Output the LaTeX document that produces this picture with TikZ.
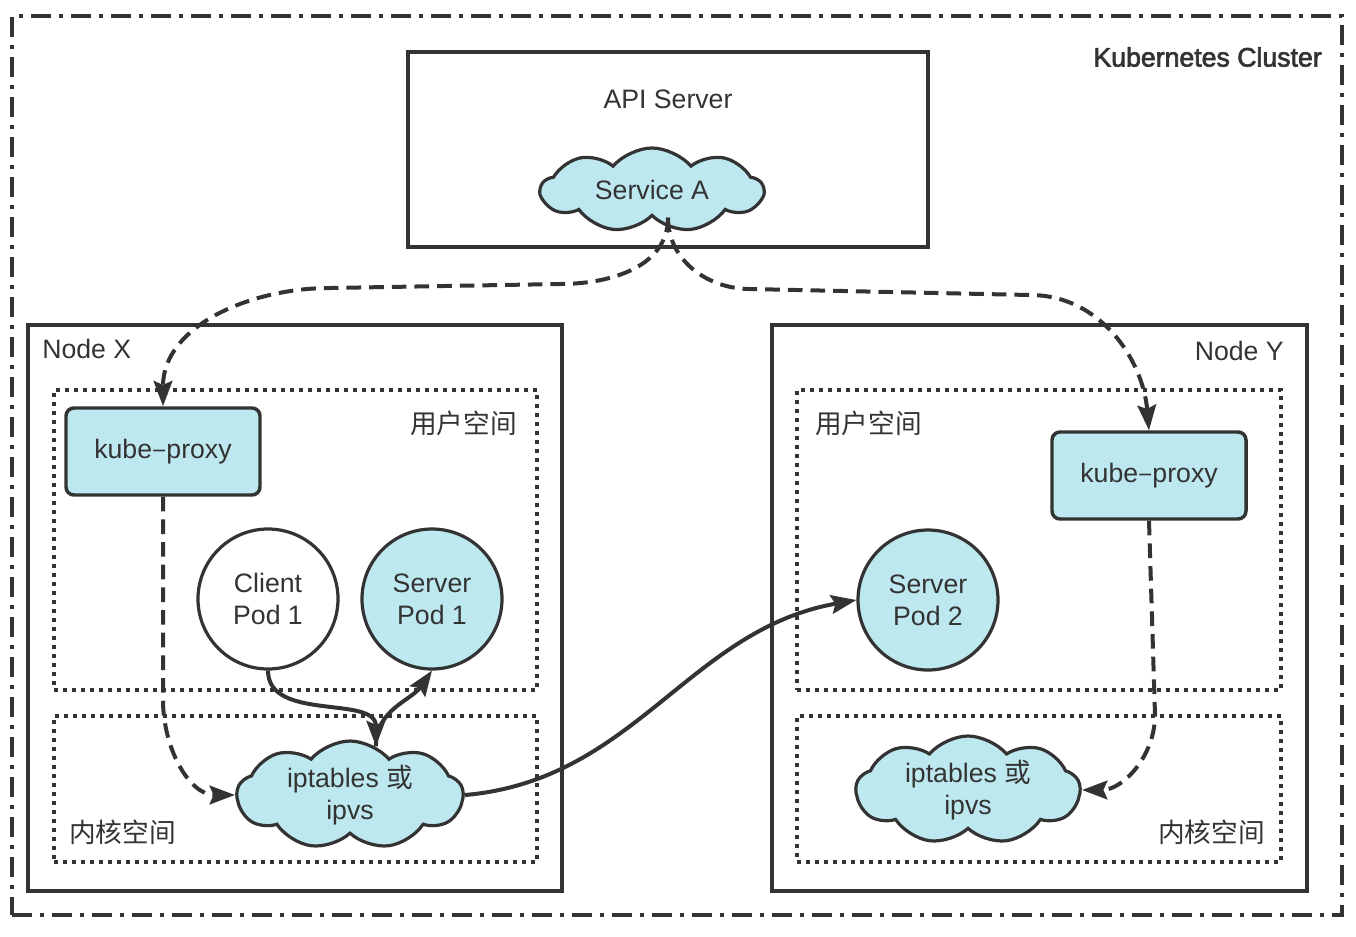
\documentclass[tikz,border=0pt]{standalone}
\usepackage{fontspec}
\setmainfont{Liberation Sans}
\newfontfamily\cjk{Noto Sans CJK SC}
\newfontfamily\semib[FakeBold=2.5]{Liberation Sans}
\usetikzlibrary{shapes.symbols,arrows.meta}
\definecolor{ink}{HTML}{333333}
\definecolor{cyanfill}{HTML}{BEE8EF}
\def\PX{0.75pt}
\begin{document}
\begin{tikzpicture}[x=0.75pt,y=-0.75pt,
  every node/.style={font=\fontsize{20}{24}\selectfont, text=ink},
  frame/.style={draw=ink, line width=2.4pt, inner sep=0pt},
  dotbox/.style={draw=ink, line width=2.4pt, dash pattern=on 3pt off 3.75pt, inner sep=0pt},
  outerframe/.style={draw=ink, line width=2.6pt, dash pattern=on 15pt off 6pt on 3pt off 6pt, inner sep=0pt},
  proxybox/.style={draw=ink, fill=cyanfill, line width=2.6pt, rounded corners=6pt, minimum width=194*\PX, minimum height=87*\PX, inner sep=0pt},
  pod/.style={circle, draw=ink, line width=2.4pt, minimum size=140*\PX, inner sep=0pt, align=center},
  cloudnode/.style={cloud, cloud puffs=9, cloud puff arc=100, cloud ignores aspect, draw=ink, fill=cyanfill, line width=2.4pt, align=center, inner sep=0pt},
  lbl/.style={inner sep=0pt},
  conn/.style={draw=ink, line width=3pt, -{Stealth[length=19pt,width=14pt,inset=3pt]}},
  dconn/.style={conn, dash pattern=on 11pt off 6pt},
]
\useasboundingbox (0,0) rectangle (1356,936);
% outer cluster
\node[outerframe, minimum width=1330*\PX, minimum height=899*\PX] (cluster) at (677,465.5) {};
\node[lbl, anchor=east, font=\fontsize{20}{24}\semib] (clusterlbl) at (1322,57) {Kubernetes Cluster};
% API server
\node[frame, minimum width=520*\PX, minimum height=195*\PX] (apis) at (668,149.5) {};
\node[lbl] (apislbl) at (668,99) {API Server};
\node[cloudnode, minimum width=222*\PX, minimum height=84*\PX] (svca) at (652,190) {Service A};
% Node X
\node[frame, minimum width=534*\PX, minimum height=566*\PX] (nodex) at (295,608) {};
\node[lbl, anchor=west] (nodexlbl) at (42,349) {Node X};
\node[dotbox, minimum width=483*\PX, minimum height=300*\PX] (userx) at (295.5,540) {};
\node[lbl, anchor=east] (userxlbl) at (517,423) {\cjk 用户空间};
\node[dotbox, minimum width=483*\PX, minimum height=146*\PX] (kernx) at (295.5,789) {};
\node[lbl, anchor=west] (kernxlbl) at (69,832) {\cjk 内核空间};
\node[proxybox] (kpx) at (163,451.5) {kube{\cjk –}proxy};
\node[pod, fill=white] (cp1) at (268,599) {Client\\Pod 1};
\node[pod, fill=cyanfill] (sp1) at (432,599) {Server\\Pod 1};
\node[cloudnode, minimum width=226*\PX, minimum height=82*\PX] (ipx) at (350,795) {iptables {\cjk 或}\\ipvs};
% Node Y
\node[frame, minimum width=535*\PX, minimum height=566*\PX] (nodey) at (1039.5,608) {};
\node[lbl, anchor=east] (nodeylbl) at (1284,351) {Node Y};
\node[dotbox, minimum width=484*\PX, minimum height=300*\PX] (usery) at (1039,540) {};
\node[lbl, anchor=west] (userylbl) at (815,423) {\cjk 用户空间};
\node[dotbox, minimum width=484*\PX, minimum height=146*\PX] (kerny) at (1039,789) {};
\node[lbl, anchor=east] (kernylbl) at (1265,832) {\cjk 内核空间};
\node[proxybox] (kpy) at (1149,475.5) {kube{\cjk –}proxy};
\node[pod, fill=cyanfill] (sp2) at (928,600) {Server\\Pod 2};
\node[cloudnode, minimum width=224*\PX, minimum height=80*\PX] (ipy) at (968,790) {iptables {\cjk 或}\\ipvs};
% connectors
\coordinate (sabot) at (svca.south -| apis.center);
\draw[dconn] (sabot) to[out=-90,in=0] (560,284) -- (330,288) to[out=180,in=90] (kpx.north);
\draw[dconn] (sabot) to[out=-90,in=180] (750,289) -- (1030,295) to[out=0,in=95] (kpy.north);
\draw[dconn] (kpx.south) -- (163,700) to[out=-90,in=180] (ipx.west);
\draw[dconn] (kpy.south) -- (1155,715) to[out=-90,in=0] (ipy.east);
\draw[conn] (cp1.south) to[out=-90,in=90] (ipx.62);
\draw[conn] (ipx.62) to[out=90,in=-125] (sp1.south);
\draw[conn] (ipx.east) to[out=5,in=190] (sp2.west);
\end{tikzpicture}
\end{document}
